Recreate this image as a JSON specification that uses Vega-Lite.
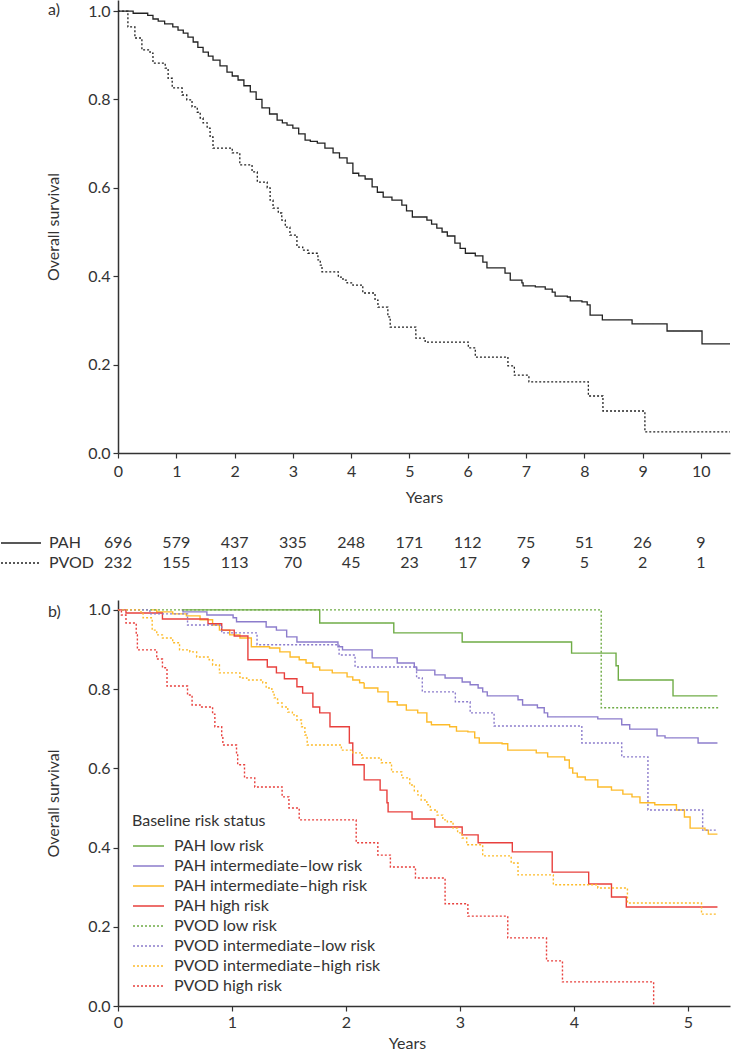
{
"$schema":"https://vega.github.io/schema/vega-lite/v6.json",
"padding":{"left":0,"top":0,"right":0,"bottom":0},
"bounds":"flush",
"spacing":0,
"resolve":{"scale":{"color":"independent","strokeDash":"independent"},"legend":{"color":"independent","strokeDash":"independent"}},
"config":{
"font":"Lato",
"view":{"stroke":null},
"axis":{"grid":false,"labelFont":"Lato","labelFontSize":16,"labelColor":"#333","titleFont":"Lato","titleFontSize":16,"titleFontWeight":"normal","titleColor":"#333","domainColor":"#333","domainWidth":1.5,"tickColor":"#333","tickWidth":1.2,"tickSize":5,"labelFlush":false},
"legend":{"labelFont":"Lato","labelFontSize":16,"labelColor":"#333","titleFont":"Lato","titleFontSize":16,"titleFontWeight":"normal","titleColor":"#333","symbolType":"stroke","padding":0,"rowPadding":0,"clipHeight":20,"labelLimit":0,"titleLimit":0},
"title":{"font":"Lato","fontSize":16,"fontWeight":"normal","color":"#333"}
},
"datasets":{
"a":[
{"g":"PAH","t":0,"s":1},{"g":"PAH","t":0.26,"s":0.995},{"g":"PAH","t":0.51,"s":0.99},{"g":"PAH","t":0.6,"s":0.982},{"g":"PAH","t":0.69,"s":0.977},{"g":"PAH","t":0.8,"s":0.971},{"g":"PAH","t":0.94,"s":0.964},{"g":"PAH","t":1.03,"s":0.957},{"g":"PAH","t":1.12,"s":0.95},{"g":"PAH","t":1.2,"s":0.941},{"g":"PAH","t":1.29,"s":0.93},{"g":"PAH","t":1.37,"s":0.918},{"g":"PAH","t":1.46,"s":0.907},{"g":"PAH","t":1.55,"s":0.898},{"g":"PAH","t":1.63,"s":0.889},{"g":"PAH","t":1.75,"s":0.876},{"g":"PAH","t":1.87,"s":0.862},{"g":"PAH","t":1.96,"s":0.853},{"g":"PAH","t":2.06,"s":0.844},{"g":"PAH","t":2.16,"s":0.831},{"g":"PAH","t":2.27,"s":0.817},{"g":"PAH","t":2.37,"s":0.8},{"g":"PAH","t":2.47,"s":0.781},{"g":"PAH","t":2.6,"s":0.767},{"g":"PAH","t":2.73,"s":0.753},{"g":"PAH","t":2.82,"s":0.747},{"g":"PAH","t":2.9,"s":0.742},{"g":"PAH","t":3.0,"s":0.735},{"g":"PAH","t":3.1,"s":0.722},{"g":"PAH","t":3.21,"s":0.708},{"g":"PAH","t":3.3,"s":0.705},{"g":"PAH","t":3.42,"s":0.701},{"g":"PAH","t":3.55,"s":0.69},{"g":"PAH","t":3.69,"s":0.679},{"g":"PAH","t":3.8,"s":0.668},{"g":"PAH","t":3.93,"s":0.656},{"g":"PAH","t":4.03,"s":0.633},{"g":"PAH","t":4.13,"s":0.627},{"g":"PAH","t":4.24,"s":0.62},{"g":"PAH","t":4.36,"s":0.602},{"g":"PAH","t":4.45,"s":0.59},{"g":"PAH","t":4.55,"s":0.579},{"g":"PAH","t":4.7,"s":0.572},{"g":"PAH","t":4.87,"s":0.561},{"g":"PAH","t":4.95,"s":0.548},{"g":"PAH","t":5.05,"s":0.534},{"g":"PAH","t":5.3,"s":0.527},{"g":"PAH","t":5.38,"s":0.518},{"g":"PAH","t":5.47,"s":0.509},{"g":"PAH","t":5.56,"s":0.5},{"g":"PAH","t":5.65,"s":0.491},{"g":"PAH","t":5.78,"s":0.475},{"g":"PAH","t":5.87,"s":0.463},{"g":"PAH","t":5.96,"s":0.452},{"g":"PAH","t":6.13,"s":0.446},{"g":"PAH","t":6.26,"s":0.432},{"g":"PAH","t":6.33,"s":0.419},{"g":"PAH","t":6.64,"s":0.407},{"g":"PAH","t":6.73,"s":0.391},{"g":"PAH","t":6.93,"s":0.385},{"g":"PAH","t":6.95,"s":0.378},{"g":"PAH","t":7.16,"s":0.376},{"g":"PAH","t":7.33,"s":0.371},{"g":"PAH","t":7.45,"s":0.364},{"g":"PAH","t":7.5,"s":0.355},{"g":"PAH","t":7.71,"s":0.353},{"g":"PAH","t":7.76,"s":0.344},{"g":"PAH","t":7.96,"s":0.342},{"g":"PAH","t":8.05,"s":0.335},{"g":"PAH","t":8.1,"s":0.312},{"g":"PAH","t":8.31,"s":0.301},{"g":"PAH","t":8.82,"s":0.292},{"g":"PAH","t":9.42,"s":0.276},{"g":"PAH","t":10.02,"s":0.247},{"g":"PAH","t":10.5,"s":0.247},
{"g":"PVOD","t":0,"s":1},{"g":"PVOD","t":0.17,"s":0.964},{"g":"PVOD","t":0.29,"s":0.939},{"g":"PVOD","t":0.41,"s":0.912},{"g":"PVOD","t":0.55,"s":0.905},{"g":"PVOD","t":0.6,"s":0.882},{"g":"PVOD","t":0.81,"s":0.871},{"g":"PVOD","t":0.86,"s":0.848},{"g":"PVOD","t":0.93,"s":0.826},{"g":"PVOD","t":1.1,"s":0.81},{"g":"PVOD","t":1.18,"s":0.799},{"g":"PVOD","t":1.27,"s":0.783},{"g":"PVOD","t":1.36,"s":0.771},{"g":"PVOD","t":1.41,"s":0.758},{"g":"PVOD","t":1.46,"s":0.747},{"g":"PVOD","t":1.53,"s":0.735},{"g":"PVOD","t":1.58,"s":0.715},{"g":"PVOD","t":1.63,"s":0.69},{"g":"PVOD","t":1.96,"s":0.679},{"g":"PVOD","t":2.09,"s":0.652},{"g":"PVOD","t":2.3,"s":0.636},{"g":"PVOD","t":2.39,"s":0.613},{"g":"PVOD","t":2.56,"s":0.6},{"g":"PVOD","t":2.61,"s":0.572},{"g":"PVOD","t":2.66,"s":0.554},{"g":"PVOD","t":2.75,"s":0.543},{"g":"PVOD","t":2.81,"s":0.527},{"g":"PVOD","t":2.87,"s":0.511},{"g":"PVOD","t":2.95,"s":0.493},{"g":"PVOD","t":3.07,"s":0.466},{"g":"PVOD","t":3.17,"s":0.459},{"g":"PVOD","t":3.26,"s":0.452},{"g":"PVOD","t":3.43,"s":0.437},{"g":"PVOD","t":3.47,"s":0.425},{"g":"PVOD","t":3.5,"s":0.41},{"g":"PVOD","t":3.78,"s":0.398},{"g":"PVOD","t":3.86,"s":0.391},{"g":"PVOD","t":3.93,"s":0.385},{"g":"PVOD","t":4.03,"s":0.38},{"g":"PVOD","t":4.2,"s":0.362},{"g":"PVOD","t":4.41,"s":0.346},{"g":"PVOD","t":4.46,"s":0.33},{"g":"PVOD","t":4.63,"s":0.308},{"g":"PVOD","t":4.67,"s":0.285},{"g":"PVOD","t":5.11,"s":0.26},{"g":"PVOD","t":5.27,"s":0.251},{"g":"PVOD","t":6.01,"s":0.238},{"g":"PVOD","t":6.13,"s":0.217},{"g":"PVOD","t":6.69,"s":0.197},{"g":"PVOD","t":6.8,"s":0.176},{"g":"PVOD","t":7.05,"s":0.161},{"g":"PVOD","t":8.07,"s":0.129},{"g":"PVOD","t":8.32,"s":0.095},{"g":"PVOD","t":9.04,"s":0.048},{"g":"PVOD","t":10.5,"s":0.048}
],
"tbl":[
{"g":"PAH","t":0,"n":696},{"g":"PAH","t":1,"n":579},{"g":"PAH","t":2,"n":437},{"g":"PAH","t":3,"n":335},{"g":"PAH","t":4,"n":248},{"g":"PAH","t":5,"n":171},{"g":"PAH","t":6,"n":112},{"g":"PAH","t":7,"n":75},{"g":"PAH","t":8,"n":51},{"g":"PAH","t":9,"n":26},{"g":"PAH","t":10,"n":9},
{"g":"PVOD","t":0,"n":232},{"g":"PVOD","t":1,"n":155},{"g":"PVOD","t":2,"n":113},{"g":"PVOD","t":3,"n":70},{"g":"PVOD","t":4,"n":45},{"g":"PVOD","t":5,"n":23},{"g":"PVOD","t":6,"n":17},{"g":"PVOD","t":7,"n":9},{"g":"PVOD","t":8,"n":5},{"g":"PVOD","t":9,"n":2},{"g":"PVOD","t":10,"n":1}
],
"b":[
{"g":"PAH low risk","t":0.56,"s":1},{"g":"PAH low risk","t":1.77,"s":0.967},{"g":"PAH low risk","t":2.42,"s":0.942},{"g":"PAH low risk","t":3.02,"s":0.919},{"g":"PAH low risk","t":3.98,"s":0.891},{"g":"PAH low risk","t":4.37,"s":0.859},{"g":"PAH low risk","t":4.39,"s":0.823},{"g":"PAH low risk","t":4.87,"s":0.783},{"g":"PAH low risk","t":5.26,"s":0.783},
{"g":"PAH intermediate–low risk","t":0.56,"s":1},{"g":"PAH intermediate–low risk","t":0.57,"s":0.995},{"g":"PAH intermediate–low risk","t":0.78,"s":0.987},{"g":"PAH intermediate–low risk","t":1.01,"s":0.98},{"g":"PAH intermediate–low risk","t":1.04,"s":0.97},{"g":"PAH intermediate–low risk","t":1.3,"s":0.957},{"g":"PAH intermediate–low risk","t":1.39,"s":0.949},{"g":"PAH intermediate–low risk","t":1.48,"s":0.932},{"g":"PAH intermediate–low risk","t":1.57,"s":0.919},{"g":"PAH intermediate–low risk","t":1.93,"s":0.907},{"g":"PAH intermediate–low risk","t":1.97,"s":0.899},{"g":"PAH intermediate–low risk","t":2.23,"s":0.879},{"g":"PAH intermediate–low risk","t":2.45,"s":0.866},{"g":"PAH intermediate–low risk","t":2.6,"s":0.856},{"g":"PAH intermediate–low risk","t":2.62,"s":0.848},{"g":"PAH intermediate–low risk","t":2.78,"s":0.836},{"g":"PAH intermediate–low risk","t":2.87,"s":0.828},{"g":"PAH intermediate–low risk","t":3.02,"s":0.818},{"g":"PAH intermediate–low risk","t":3.09,"s":0.811},{"g":"PAH intermediate–low risk","t":3.16,"s":0.803},{"g":"PAH intermediate–low risk","t":3.2,"s":0.793},{"g":"PAH intermediate–low risk","t":3.24,"s":0.783},{"g":"PAH intermediate–low risk","t":3.51,"s":0.773},{"g":"PAH intermediate–low risk","t":3.55,"s":0.76},{"g":"PAH intermediate–low risk","t":3.68,"s":0.753},{"g":"PAH intermediate–low risk","t":3.74,"s":0.74},{"g":"PAH intermediate–low risk","t":3.77,"s":0.73},{"g":"PAH intermediate–low risk","t":4.21,"s":0.725},{"g":"PAH intermediate–low risk","t":4.42,"s":0.71},{"g":"PAH intermediate–low risk","t":4.49,"s":0.699},{"g":"PAH intermediate–low risk","t":4.73,"s":0.682},{"g":"PAH intermediate–low risk","t":4.8,"s":0.677},{"g":"PAH intermediate–low risk","t":5.09,"s":0.664},{"g":"PAH intermediate–low risk","t":5.26,"s":0.664},
{"g":"PAH intermediate–high risk","t":0.29,"s":1},{"g":"PAH intermediate–high risk","t":0.34,"s":0.995},{"g":"PAH intermediate–high risk","t":0.48,"s":0.99},{"g":"PAH intermediate–high risk","t":0.6,"s":0.985},{"g":"PAH intermediate–high risk","t":0.72,"s":0.975},{"g":"PAH intermediate–high risk","t":0.83,"s":0.962},{"g":"PAH intermediate–high risk","t":0.89,"s":0.949},{"g":"PAH intermediate–high risk","t":0.98,"s":0.937},{"g":"PAH intermediate–high risk","t":1.07,"s":0.929},{"g":"PAH intermediate–high risk","t":1.17,"s":0.907},{"g":"PAH intermediate–high risk","t":1.33,"s":0.904},{"g":"PAH intermediate–high risk","t":1.42,"s":0.894},{"g":"PAH intermediate–high risk","t":1.51,"s":0.881},{"g":"PAH intermediate–high risk","t":1.59,"s":0.874},{"g":"PAH intermediate–high risk","t":1.65,"s":0.866},{"g":"PAH intermediate–high risk","t":1.71,"s":0.856},{"g":"PAH intermediate–high risk","t":1.77,"s":0.848},{"g":"PAH intermediate–high risk","t":1.88,"s":0.841},{"g":"PAH intermediate–high risk","t":2.01,"s":0.831},{"g":"PAH intermediate–high risk","t":2.06,"s":0.823},{"g":"PAH intermediate–high risk","t":2.12,"s":0.816},{"g":"PAH intermediate–high risk","t":2.16,"s":0.803},{"g":"PAH intermediate–high risk","t":2.28,"s":0.793},{"g":"PAH intermediate–high risk","t":2.37,"s":0.768},{"g":"PAH intermediate–high risk","t":2.45,"s":0.76},{"g":"PAH intermediate–high risk","t":2.53,"s":0.747},{"g":"PAH intermediate–high risk","t":2.63,"s":0.74},{"g":"PAH intermediate–high risk","t":2.71,"s":0.717},{"g":"PAH intermediate–high risk","t":2.75,"s":0.71},{"g":"PAH intermediate–high risk","t":2.91,"s":0.705},{"g":"PAH intermediate–high risk","t":2.97,"s":0.694},{"g":"PAH intermediate–high risk","t":3.07,"s":0.692},{"g":"PAH intermediate–high risk","t":3.13,"s":0.677},{"g":"PAH intermediate–high risk","t":3.17,"s":0.664},{"g":"PAH intermediate–high risk","t":3.37,"s":0.662},{"g":"PAH intermediate–high risk","t":3.42,"s":0.646},{"g":"PAH intermediate–high risk","t":3.67,"s":0.639},{"g":"PAH intermediate–high risk","t":3.77,"s":0.629},{"g":"PAH intermediate–high risk","t":3.92,"s":0.621},{"g":"PAH intermediate–high risk","t":3.96,"s":0.601},{"g":"PAH intermediate–high risk","t":3.99,"s":0.588},{"g":"PAH intermediate–high risk","t":4.03,"s":0.578},{"g":"PAH intermediate–high risk","t":4.1,"s":0.571},{"g":"PAH intermediate–high risk","t":4.21,"s":0.553},{"g":"PAH intermediate–high risk","t":4.33,"s":0.545},{"g":"PAH intermediate–high risk","t":4.43,"s":0.535},{"g":"PAH intermediate–high risk","t":4.51,"s":0.528},{"g":"PAH intermediate–high risk","t":4.58,"s":0.513},{"g":"PAH intermediate–high risk","t":4.71,"s":0.508},{"g":"PAH intermediate–high risk","t":4.9,"s":0.495},{"g":"PAH intermediate–high risk","t":4.97,"s":0.477},{"g":"PAH intermediate–high risk","t":5.02,"s":0.449},{"g":"PAH intermediate–high risk","t":5.15,"s":0.444},{"g":"PAH intermediate–high risk","t":5.18,"s":0.434},{"g":"PAH intermediate–high risk","t":5.26,"s":0.434},
{"g":"PAH high risk","t":0,"s":1},{"g":"PAH high risk","t":0.07,"s":0.992},{"g":"PAH high risk","t":0.39,"s":0.977},{"g":"PAH high risk","t":0.79,"s":0.965},{"g":"PAH high risk","t":0.91,"s":0.949},{"g":"PAH high risk","t":1.02,"s":0.934},{"g":"PAH high risk","t":1.14,"s":0.874},{"g":"PAH high risk","t":1.31,"s":0.856},{"g":"PAH high risk","t":1.39,"s":0.841},{"g":"PAH high risk","t":1.46,"s":0.826},{"g":"PAH high risk","t":1.57,"s":0.806},{"g":"PAH high risk","t":1.62,"s":0.79},{"g":"PAH high risk","t":1.71,"s":0.755},{"g":"PAH high risk","t":1.77,"s":0.74},{"g":"PAH high risk","t":1.86,"s":0.705},{"g":"PAH high risk","t":2.03,"s":0.664},{"g":"PAH high risk","t":2.06,"s":0.609},{"g":"PAH high risk","t":2.16,"s":0.571},{"g":"PAH high risk","t":2.3,"s":0.545},{"g":"PAH high risk","t":2.36,"s":0.513},{"g":"PAH high risk","t":2.37,"s":0.49},{"g":"PAH high risk","t":2.58,"s":0.472},{"g":"PAH high risk","t":2.78,"s":0.452},{"g":"PAH high risk","t":3.02,"s":0.432},{"g":"PAH high risk","t":3.16,"s":0.412},{"g":"PAH high risk","t":3.46,"s":0.389},{"g":"PAH high risk","t":3.81,"s":0.338},{"g":"PAH high risk","t":4.13,"s":0.308},{"g":"PAH high risk","t":4.33,"s":0.275},{"g":"PAH high risk","t":4.46,"s":0.25},{"g":"PAH high risk","t":5.26,"s":0.25},
{"g":"PVOD low risk","t":0,"s":1},{"g":"PVOD low risk","t":4.24,"s":0.753},{"g":"PVOD low risk","t":5.27,"s":0.753},
{"g":"PVOD intermediate–low risk","t":0,"s":1},{"g":"PVOD intermediate–low risk","t":0.28,"s":0.99},{"g":"PVOD intermediate–low risk","t":0.61,"s":0.962},{"g":"PVOD intermediate–low risk","t":0.91,"s":0.942},{"g":"PVOD intermediate–low risk","t":1.22,"s":0.912},{"g":"PVOD intermediate–low risk","t":1.94,"s":0.886},{"g":"PVOD intermediate–low risk","t":2.08,"s":0.856},{"g":"PVOD intermediate–low risk","t":2.62,"s":0.828},{"g":"PVOD intermediate–low risk","t":2.67,"s":0.793},{"g":"PVOD intermediate–low risk","t":2.96,"s":0.768},{"g":"PVOD intermediate–low risk","t":3.09,"s":0.74},{"g":"PVOD intermediate–low risk","t":3.3,"s":0.707},{"g":"PVOD intermediate–low risk","t":4.07,"s":0.664},{"g":"PVOD intermediate–low risk","t":4.42,"s":0.629},{"g":"PVOD intermediate–low risk","t":4.65,"s":0.495},{"g":"PVOD intermediate–low risk","t":5.13,"s":0.444},{"g":"PVOD intermediate–low risk","t":5.26,"s":0.444},
{"g":"PVOD intermediate–high risk","t":0,"s":1},{"g":"PVOD intermediate–high risk","t":0.19,"s":0.995},{"g":"PVOD intermediate–high risk","t":0.22,"s":0.98},{"g":"PVOD intermediate–high risk","t":0.3,"s":0.949},{"g":"PVOD intermediate–high risk","t":0.34,"s":0.937},{"g":"PVOD intermediate–high risk","t":0.39,"s":0.929},{"g":"PVOD intermediate–high risk","t":0.48,"s":0.917},{"g":"PVOD intermediate–high risk","t":0.54,"s":0.899},{"g":"PVOD intermediate–high risk","t":0.63,"s":0.894},{"g":"PVOD intermediate–high risk","t":0.69,"s":0.881},{"g":"PVOD intermediate–high risk","t":0.8,"s":0.874},{"g":"PVOD intermediate–high risk","t":0.83,"s":0.861},{"g":"PVOD intermediate–high risk","t":0.89,"s":0.841},{"g":"PVOD intermediate–high risk","t":1.07,"s":0.828},{"g":"PVOD intermediate–high risk","t":1.13,"s":0.823},{"g":"PVOD intermediate–high risk","t":1.27,"s":0.816},{"g":"PVOD intermediate–high risk","t":1.3,"s":0.803},{"g":"PVOD intermediate–high risk","t":1.35,"s":0.793},{"g":"PVOD intermediate–high risk","t":1.37,"s":0.778},{"g":"PVOD intermediate–high risk","t":1.4,"s":0.765},{"g":"PVOD intermediate–high risk","t":1.44,"s":0.755},{"g":"PVOD intermediate–high risk","t":1.49,"s":0.742},{"g":"PVOD intermediate–high risk","t":1.53,"s":0.735},{"g":"PVOD intermediate–high risk","t":1.57,"s":0.722},{"g":"PVOD intermediate–high risk","t":1.61,"s":0.705},{"g":"PVOD intermediate–high risk","t":1.64,"s":0.684},{"g":"PVOD intermediate–high risk","t":1.66,"s":0.659},{"g":"PVOD intermediate–high risk","t":1.96,"s":0.646},{"g":"PVOD intermediate–high risk","t":2.06,"s":0.639},{"g":"PVOD intermediate–high risk","t":2.14,"s":0.626},{"g":"PVOD intermediate–high risk","t":2.31,"s":0.614},{"g":"PVOD intermediate–high risk","t":2.4,"s":0.591},{"g":"PVOD intermediate–high risk","t":2.49,"s":0.576},{"g":"PVOD intermediate–high risk","t":2.56,"s":0.558},{"g":"PVOD intermediate–high risk","t":2.6,"s":0.543},{"g":"PVOD intermediate–high risk","t":2.63,"s":0.533},{"g":"PVOD intermediate–high risk","t":2.66,"s":0.52},{"g":"PVOD intermediate–high risk","t":2.71,"s":0.508},{"g":"PVOD intermediate–high risk","t":2.74,"s":0.495},{"g":"PVOD intermediate–high risk","t":2.8,"s":0.482},{"g":"PVOD intermediate–high risk","t":2.85,"s":0.47},{"g":"PVOD intermediate–high risk","t":2.89,"s":0.465},{"g":"PVOD intermediate–high risk","t":2.94,"s":0.449},{"g":"PVOD intermediate–high risk","t":2.98,"s":0.437},{"g":"PVOD intermediate–high risk","t":3.02,"s":0.424},{"g":"PVOD intermediate–high risk","t":3.06,"s":0.407},{"g":"PVOD intermediate–high risk","t":3.2,"s":0.379},{"g":"PVOD intermediate–high risk","t":3.45,"s":0.361},{"g":"PVOD intermediate–high risk","t":3.51,"s":0.331},{"g":"PVOD intermediate–high risk","t":3.82,"s":0.306},{"g":"PVOD intermediate–high risk","t":4.21,"s":0.298},{"g":"PVOD intermediate–high risk","t":4.47,"s":0.26},{"g":"PVOD intermediate–high risk","t":5.12,"s":0.232},{"g":"PVOD intermediate–high risk","t":5.26,"s":0.232},
{"g":"PVOD high risk","t":0,"s":1},{"g":"PVOD high risk","t":0.03,"s":0.987},{"g":"PVOD high risk","t":0.07,"s":0.967},{"g":"PVOD high risk","t":0.16,"s":0.937},{"g":"PVOD high risk","t":0.17,"s":0.899},{"g":"PVOD high risk","t":0.34,"s":0.876},{"g":"PVOD high risk","t":0.39,"s":0.854},{"g":"PVOD high risk","t":0.43,"s":0.808},{"g":"PVOD high risk","t":0.61,"s":0.785},{"g":"PVOD high risk","t":0.65,"s":0.76},{"g":"PVOD high risk","t":0.72,"s":0.755},{"g":"PVOD high risk","t":0.83,"s":0.737},{"g":"PVOD high risk","t":0.85,"s":0.705},{"g":"PVOD high risk","t":0.91,"s":0.679},{"g":"PVOD high risk","t":0.92,"s":0.659},{"g":"PVOD high risk","t":1.04,"s":0.634},{"g":"PVOD high risk","t":1.05,"s":0.609},{"g":"PVOD high risk","t":1.11,"s":0.576},{"g":"PVOD high risk","t":1.2,"s":0.553},{"g":"PVOD high risk","t":1.44,"s":0.528},{"g":"PVOD high risk","t":1.5,"s":0.5},{"g":"PVOD high risk","t":1.59,"s":0.47},{"g":"PVOD high risk","t":2.09,"s":0.412},{"g":"PVOD high risk","t":2.28,"s":0.381},{"g":"PVOD high risk","t":2.39,"s":0.351},{"g":"PVOD high risk","t":2.61,"s":0.323},{"g":"PVOD high risk","t":2.87,"s":0.258},{"g":"PVOD high risk","t":3.07,"s":0.227},{"g":"PVOD high risk","t":3.42,"s":0.172},{"g":"PVOD high risk","t":3.76,"s":0.114},{"g":"PVOD high risk","t":3.9,"s":0.061},{"g":"PVOD high risk","t":4.7,"s":0}
]
},
"vconcat":[
{
"width":612,"height":453,
"title":{"text":"a)","anchor":"start","frame":"group","orient":"top","offset":0,"dx":-70,"dy":31,"baseline":"alphabetic"},
"data":{"name":"a"},
"mark":{"type":"line","interpolate":"step-after","color":"#222","strokeWidth":1.3},
"encoding":{
"x":{"field":"t","type":"quantitative","scale":{"domain":[0,10.5],"nice":false,"zero":false},"axis":{"values":[0,1,2,3,4,5,6,7,8,9,10],"format":"d","title":"Years","labelPadding":5,"titlePadding":10}},
"y":{"field":"s","type":"quantitative","scale":{"domain":[0,1.025],"nice":false},"axis":{"values":[0,0.2,0.4,0.6,0.8,1],"format":".1f","title":"Overall survival","labelPadding":3,"titlePadding":26}},
"strokeDash":{"field":"g","type":"nominal","scale":{"domain":["PAH","PVOD"],"range":[[1,0],[2,2]]},"legend":{"orient":"none","legendX":-118,"legendY":533,"title":null,"symbolSize":1600,"labelOffset":7,"symbolStrokeColor":"#222","symbolStrokeWidth":1.3}}
}
},
{
"width":612,"height":147,
"data":{"name":"tbl"},
"mark":{"type":"text","fontSize":16,"color":"#333","font":"Lato","baseline":"middle"},
"encoding":{
"x":{"field":"t","type":"quantitative","scale":{"domain":[0,10.5],"nice":false},"axis":null},
"y":{"field":"g","type":"nominal","scale":{"type":"point","domain":["PAH","PVOD"],"range":[90,110],"padding":0},"axis":null},
"text":{"field":"n","type":"quantitative"}
}
},
{
"width":612,"height":406,
"title":{"text":"b)","anchor":"start","frame":"group","orient":"top","offset":0,"dx":-70,"dy":33,"baseline":"alphabetic"},
"data":{"name":"b"},
"mark":{"type":"line","interpolate":"step-after","strokeWidth":1.4},
"encoding":{
"x":{"field":"t","type":"quantitative","scale":{"domain":[0,5.37],"nice":false},"axis":{"values":[0,1,2,3,4,5],"format":"d","title":"Years","labelPadding":3,"titlePadding":5,"titleX":289}},
"y":{"field":"s","type":"quantitative","scale":{"domain":[0,1.025],"nice":false},"axis":{"values":[0,0.2,0.4,0.6,0.8,1],"format":".1f","title":"Overall survival","labelPadding":3,"titlePadding":26}},
"color":{"field":"g","type":"nominal","scale":{"domain":["PAH low risk","PAH intermediate–low risk","PAH intermediate–high risk","PAH high risk","PVOD low risk","PVOD intermediate–low risk","PVOD intermediate–high risk","PVOD high risk"],"range":["#6fac46","#8c7ccc","#fdbb2a","#e8403d","#6fac46","#8c7ccc","#fdbb2a","#e8403d"]},"legend":{"orient":"none","legendX":14,"legendY":213,"title":"Baseline risk status","titlePadding":7,"symbolSize":961,"labelOffset":9,"symbolStrokeWidth":1.4}},
"strokeDash":{"field":"g","type":"nominal","scale":{"domain":["PAH low risk","PAH intermediate–low risk","PAH intermediate–high risk","PAH high risk","PVOD low risk","PVOD intermediate–low risk","PVOD intermediate–high risk","PVOD high risk"],"range":[[1,0],[1,0],[1,0],[1,0],[2,2],[2,2],[2,2],[2,2]]},"legend":{"orient":"none","legendX":14,"legendY":213,"title":"Baseline risk status","titlePadding":7,"symbolSize":961,"labelOffset":9,"symbolStrokeWidth":1.4}}
}
}
]
}
